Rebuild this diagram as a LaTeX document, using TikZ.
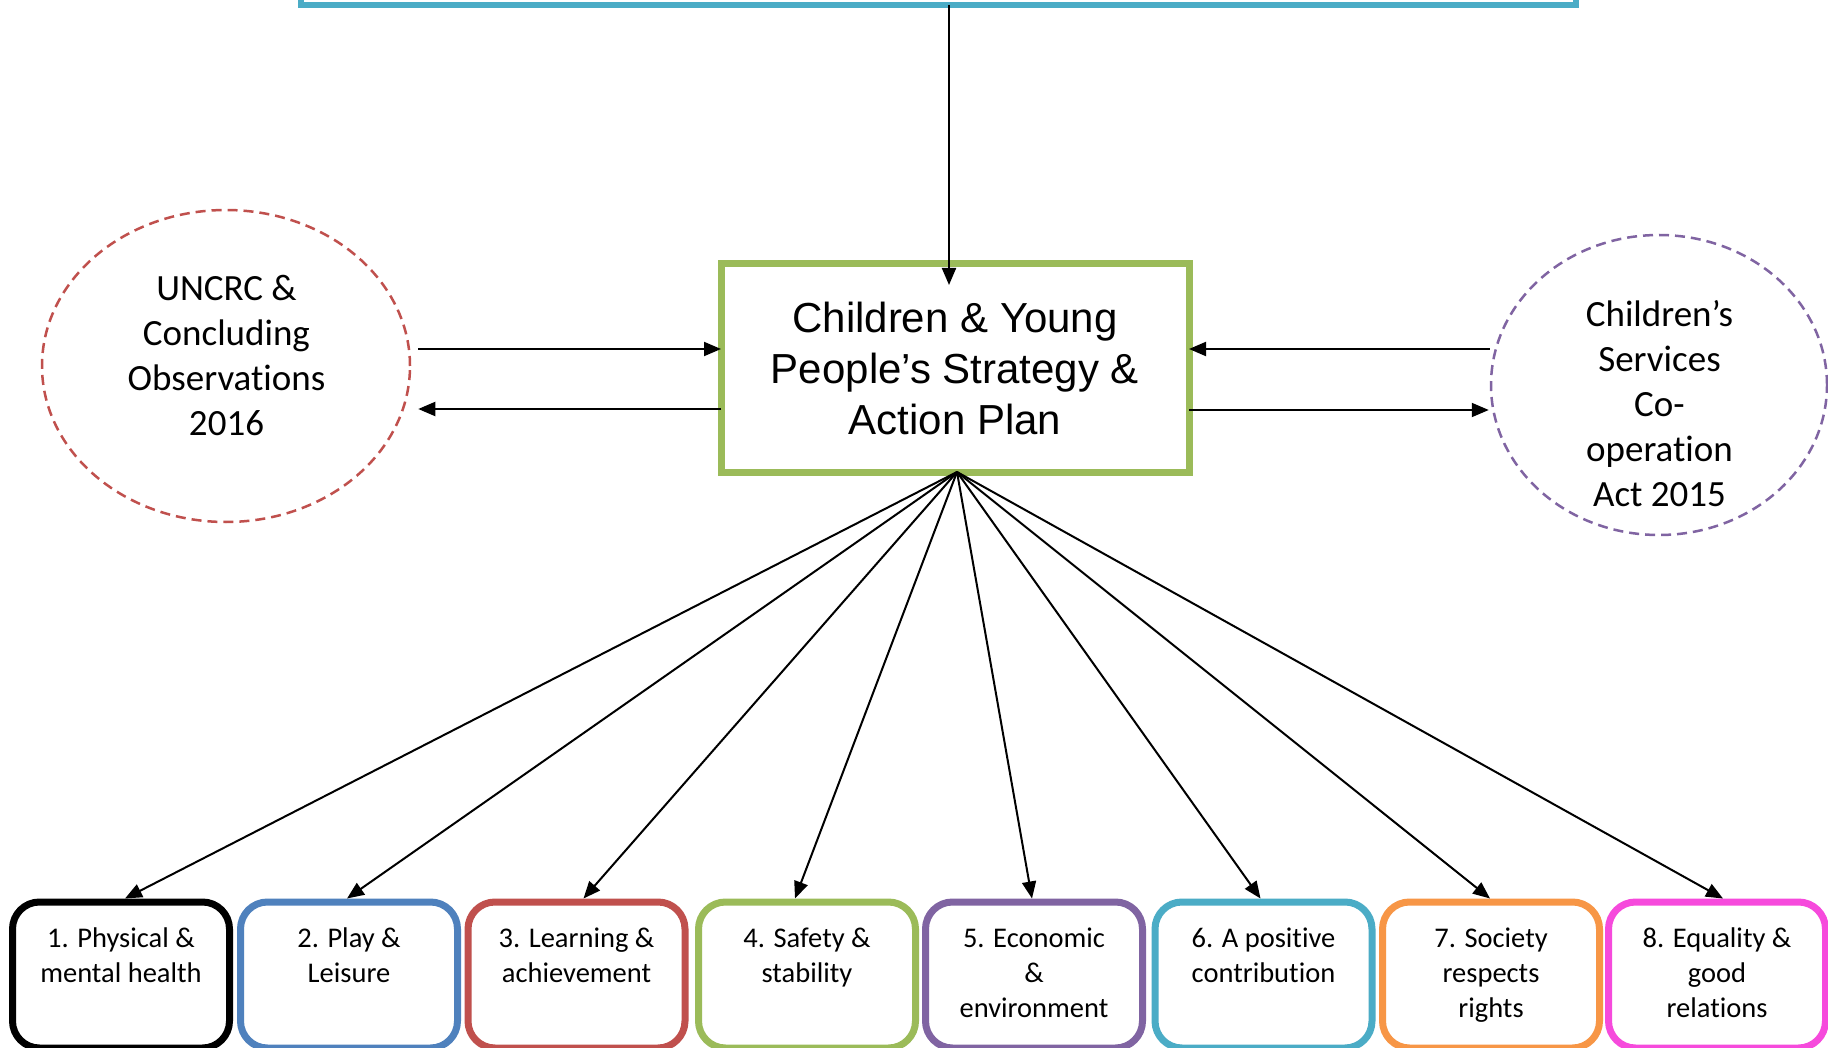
\documentclass[tikz,border=0pt]{standalone}
\usepackage{fontspec}
\setmainfont{Carlito}[Ligatures={TeX,NoCommon}]
\newfontfamily\arialfont{Liberation Sans}
\usetikzlibrary{arrows.meta,shapes.geometric}
\definecolor{topblue}{HTML}{4BACC6}
\definecolor{mgreen}{HTML}{9BBB59}
\definecolor{mred}{HTML}{C0504D}
\definecolor{mpurple}{HTML}{8064A2}
\definecolor{mblue}{HTML}{4F81BD}
\definecolor{morange}{HTML}{F79646}
\definecolor{mpink}{HTML}{F64ADC}
\newcommand{\goaltext}[1]{\parbox[c][104pt][t]{214pt}{\centering\rule{0pt}{24pt}#1}}
\begin{document}
\begin{tikzpicture}[x=1pt,y=-1pt,
  arr/.style={line width=2pt,-{Triangle[length=17pt,width=14pt]}},
  goal/.style={draw=#1,line width=7pt,rounded corners=27pt,minimum width=217pt,
    minimum height=146pt,inner sep=0pt,fill=white,font=\fontsize{28.5}{35}\selectfont},
  oval/.style={ellipse,draw=#1,line width=2.5pt,dash pattern=on 10pt off 6pt,inner sep=0pt},
  ovaltext/.style={align=center,inner sep=0pt,font=\fontsize{37}{45}\selectfont}]
\useasboundingbox (0,0) rectangle (1828,1048);
\clip (0,0) rectangle (1828,1048);
\fill[white] (0,0) rectangle (1828,1048);

% top (cut-off) box
\node[draw=topblue,line width=6pt,minimum width=1275pt,minimum height=100pt,
  inner sep=0pt,outer sep=0pt,anchor=south] (top) at (938.5,5) {};

% central box
\node[draw=mgreen,line width=7pt,minimum width=468pt,minimum height=208pt,
  inner sep=0pt,outer sep=0pt,align=center,
  font=\arialfont\fontsize{42}{51}\selectfont] (main) at (955,368)
  {Children \& Young\\People’s Strategy \&\\Action Plan};

% side ellipses
\node[oval=mred,minimum width=368pt,minimum height=312pt] (uncrc) at (226,366) {};
\node[ovaltext] (uncrctxt) at (226.5,355.5) {UNCRC \&\\Concluding\\Observations\\2016};
\node[oval=mpurple,minimum width=336pt,minimum height=300pt] (csc) at (1659,385) {};
\node[ovaltext] (csctxt) at (1659.5,403.5) {Children’s\\Services\\Co-\\operation\\Act 2015};

% bottom goal boxes
\node[goal=black]   (g1) at (121,975)   {\goaltext{1. Physical \&\\mental health}};
\node[goal=mblue]   (g2) at (349,975)   {\goaltext{2. Play \&\\Leisure}};
\node[goal=mred]    (g3) at (576.5,975) {\goaltext{3. Learning \&\\achievement}};
\node[goal=mgreen]  (g4) at (807,975)   {\goaltext{4. Safety \&\\stability}};
\node[goal=mpurple] (g5) at (1034,975)  {\goaltext{5. Economic\\\&\\environment}};
\node[goal=topblue] (g6) at (1263.5,975){\goaltext{6. A positive\\contribution}};
\node[goal=morange] (g7) at (1491,975)  {\goaltext{7. Society\\respects\\rights}};
\node[goal=mpink]   (g8) at (1717,975)  {\goaltext{8. Equality \&\\good\\relations}};

% connectors
\draw[arr] ([xshift=10.5pt]top.south) -- ([xshift=-6pt,yshift=-21pt]main.north);
\draw[arr] ([shift={(7pt,17pt)}]uncrc.east) -- ([yshift=19pt]main.west);
\draw[arr] ([yshift=-41pt]main.west) -- ([shift={(7pt,-43pt)}]uncrc.east);
\draw[arr] ([yshift=36pt]csc.west) -- ([yshift=19pt]main.east);
\draw[arr] ([yshift=-42pt]main.east) -- ([shift={(-1pt,-25pt)}]csc.west);

\foreach \g/\dx in {g1/4,g2/-2,g3/7,g4/-12,g5/-2,g6/-3,g7/-1,g8/6}
  \draw[arr] ([xshift=2pt]main.south) -- ([xshift=\dx pt]\g.north);
\end{tikzpicture}
\end{document}
